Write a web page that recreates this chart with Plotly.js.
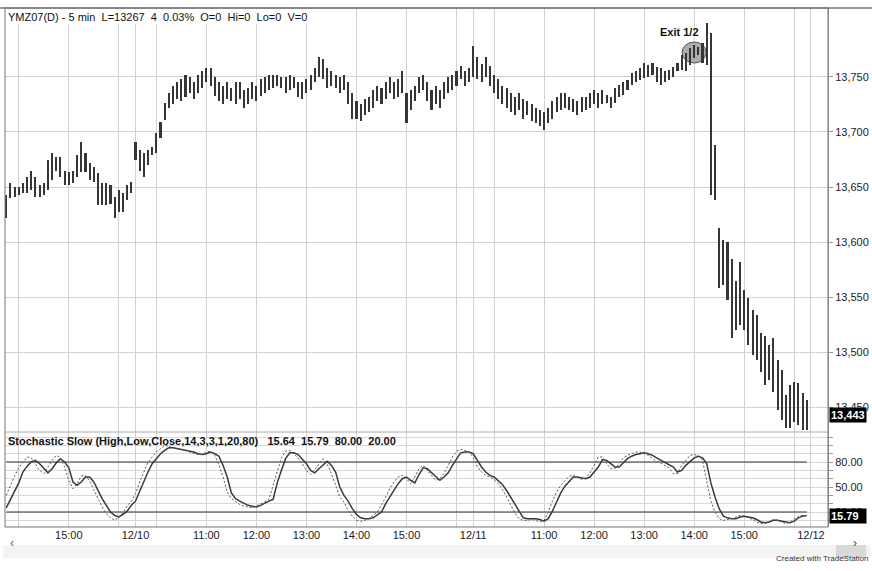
<!DOCTYPE html>
<html><head><meta charset="utf-8">
<script src="https://cdn.plot.ly/plotly-3.0.1.min.js"></script>
<style>html,body{margin:0;padding:0;background:#fff;}#chart{width:872px;height:571px;}</style>
</head><body><div id="chart"></div>
<script>
// 5-min bars, 12/07 13:45 .. 16:15
const hi_1207 = [13643,13654,13650,13650,13654,13659,13665,13659,13652,13654,13675,13681,13677,13677,13665,13664,13665,13679,13691,13681,13672,13668,13663,13654,13654,13652,13641,13647,13645,13652,13655];
const lo_1207 = [13622,13640,13641,13643,13645,13645,13647,13641,13641,13643,13647,13656,13665,13659,13652,13652,13654,13659,13664,13664,13656,13655,13634,13634,13634,13635,13622,13627,13627,13638,13645];
// 12/10 09:35 .. 16:15
const hi_1210 = [13691,13684,13681,13684,13686,13699,13709,13726,13735,13742,13745,13748,13752,13750,13745,13752,13755,13758,13758,13750,13745,13742,13745,13740,13745,13745,13738,13740,13745,13742,13748,13750,13752,13752,13752,13750,13750,13752,13750,13745,13745,13748,13752,13758,13768,13766,13758,13755,13752,13750,13752,13745,13735,13728,13725,13730,13732,13738,13742,13740,13745,13750,13745,13748,13755,13735,13738,13742,13750,13752,13745,13738,13742,13738,13745,13750,13752,13755,13760,13755,13758];
const lo_1210 = [13675,13665,13659,13670,13679,13681,13695,13711,13722,13725,13730,13728,13732,13735,13730,13735,13740,13745,13742,13733,13728,13725,13730,13728,13725,13730,13722,13725,13730,13728,13733,13735,13738,13740,13742,13740,13735,13738,13740,13732,13730,13735,13738,13745,13750,13748,13740,13742,13740,13735,13738,13725,13712,13712,13710,13715,13718,13722,13728,13725,13730,13735,13730,13732,13735,13708,13720,13728,13735,13738,13728,13720,13725,13722,13730,13735,13738,13742,13748,13742,13745];
// 12/11 09:35 .. 16:15
const hi_1211 = [13778,13768,13762,13768,13760,13752,13748,13742,13740,13735,13732,13735,13730,13728,13725,13722,13720,13718,13722,13728,13732,13735,13735,13732,13730,13728,13732,13732,13735,13738,13735,13738,13734,13732,13740,13743,13745,13747,13754,13755,13758,13763,13761,13763,13759,13758,13755,13756,13759,13763,13770,13772,13776,13779,13777,13781,13799,13790,13688,13613,13602,13600,13585,13565,13582,13556,13549,13538,13534,13517,13515,13506,13513,13493,13484,13461,13470,13473,13472,13463,13456];
const lo_1211 = [13750,13748,13745,13750,13742,13735,13730,13725,13722,13718,13715,13720,13712,13715,13710,13708,13705,13702,13708,13712,13718,13720,13722,13720,13718,13715,13718,13720,13722,13725,13722,13725,13726,13722,13726,13732,13734,13738,13743,13745,13747,13749,13750,13752,13745,13743,13745,13747,13750,13755,13756,13755,13761,13767,13770,13763,13761,13643,13638,13558,13561,13547,13513,13520,13525,13520,13506,13497,13493,13482,13470,13475,13464,13447,13438,13431,13431,13436,13434,13429,13429];

// Stochastic Slow (14,3,3)
const stochK = [40,52,63,73,80,86,85,78,70,66, 74,82,88,85,74,58,48,54,63,64, 57,46,35,26,18,13,10,13,19,27, 33,42,56,68,80,86,92,96,100,99, 97,96,95,94,92,90,89,89,92,93, 88,77,62,44,36,32,29,27,26,25, 27,30,33,35,52,70,85,93,94,90, 85,78,70,65,71,78,84,77,66,52, 38,32,22,15,10,9,10,12,16,20, 28,38,48,56,62,64,60,54,62,72, 76,70,64,58,60,66,76,86,93,95, 94,92,86,74,68,64,62,59,54,47, 38,28,19,12,10,10,11,10,8,10, 20,33,44,52,58,63,64,61,59,61, 67,76,86,86,78,72,72,78,85,88, 90,92,92,90,88,84,81,78,76,73, 66,66,76,82,88,89,88,82,58,33, 20,12,10,11,12,14,16,15,13,11, 8,6,6,9,11,10,8,6,8,12, 15,16,15.64];
const stochD = [25,35,46,55,68,75,80,82,78,72, 67,72,79,84,80,73,56,52,56,62, 62,56,45,36,28,20,16,14,17,21, 28,33,45,57,68,78,84,90,94,97, 97,96,95,94,93,92,90,89,90,92, 90,87,76,62,43,36,33,30,28,27, 26,28,31,33,35,55,70,84,91,91, 89,84,78,70,67,72,77,81,76,68, 50,40,33,24,17,13,12,12,13,16, 20,30,38,46,54,60,62,58,55,65, 73,72,67,63,58,62,67,76,84,91, 92,92,90,82,74,68,64,62,58,53, 46,38,29,21,13,12,12,12,11,9, 12,21,32,43,51,56,62,62,61,60, 62,68,74,83,82,78,74,74,79,84, 87,89,90,91,90,88,85,82,79,77, 74,68,70,76,81,85,87,85,78,55, 38,24,15,13,12,12,14,15,14,13, 11,8,7,8,10,10,9,8,7,9, 13,15,15.79];

const timeTickIdx  = [3, 15, 27, 31, 36, 48, 60, 72, 84, 96, 108, 112, 117, 129, 141, 153, 165, 177, 189, 193];
const timeTickText = ['', '15:00', '', '12/10', '', '11:00', '12:00', '13:00', '14:00', '15:00', '', '12/11', '', '11:00', '12:00', '13:00', '14:00', '15:00', '', '12/12'];
const priceTicks = [13450, 13500, 13550, 13600, 13650, 13700, 13750];
const priceTickText = ['13,450', '13,500', '13,550', '13,600', '13,650', '13,700', '13,750'];
const stochTicks = [10, 20, 30, 40, 50, 60, 70, 80, 90, 100, 110];
const stochTickText = ['', '20.00', '', '', '50.00', '', '', '80.00', '', '', ''];
const lastClose = 13443;
const overbought = 80, oversold = 20;

const highs = hi_1207.concat(hi_1210, hi_1211);
const lows = lo_1207.concat(lo_1210, lo_1211);
const idx = highs.map((_, i) => i);
const FONT = 'Liberation Sans, Arial, sans-serif';
const nb = '\u00a0';

const traces = [
  {type: 'bar', x: idx, y: highs.map((h, i) => h - lows[i]), base: lows, width: 0.5,
   marker: {color: '#363636', line: {width: 0}}, xaxis: 'x', yaxis: 'y', hoverinfo: 'skip'},
  {type: 'scatter', mode: 'lines', x: idx, y: idx.map(() => overbought), line: {color: '#333', width: 1.2}, xaxis: 'x', yaxis: 'y2', hoverinfo: 'skip'},
  {type: 'scatter', mode: 'lines', x: idx, y: idx.map(() => oversold), line: {color: '#333', width: 1.2}, xaxis: 'x', yaxis: 'y2', hoverinfo: 'skip'},
  {type: 'scatter', mode: 'lines', x: idx, y: stochD, line: {color: '#3a3a3a', width: 1.5}, xaxis: 'x', yaxis: 'y2'},
  {type: 'scatter', mode: 'lines', x: idx, y: stochK, line: {color: '#555', width: 1, dash: '2px,2px'}, xaxis: 'x', yaxis: 'y2'}
];

const pxX = (p) => (p - 5) / 823;     // pixel -> paper x
const pxY = (p) => (527 - p) / 519;   // pixel -> paper y

const layout = {
  width: 872, height: 571,
  margin: {l: 5, r: 44, t: 8, b: 44, pad: 0},
  paper_bgcolor: '#fff', plot_bgcolor: '#fff',
  showlegend: false, bargap: 0,
  font: {family: FONT, size: 11, color: '#222'},
  xaxis: {range: [-0.3, 197.1], tickvals: timeTickIdx, ticktext: timeTickText, anchor: 'y2',
          showgrid: true, gridcolor: '#d2d2d2', gridwidth: 1, zeroline: false, ticks: '',
          tickfont: {family: FONT, size: 11, color: '#222'}, showline: false, fixedrange: true},
  yaxis: {domain: [0.183, 1], range: [13427.3, 13812.7], side: 'right', tickvals: priceTicks, ticktext: priceTickText,
          showgrid: true, gridcolor: '#d2d2d2', zeroline: false, ticks: 'outside', ticklen: 4, tickcolor: '#999',
          showline: true, linecolor: '#999', tickfont: {family: FONT, size: 11, color: '#222'}, fixedrange: true},
  yaxis2: {domain: [0, 0.183], range: [2, 116], side: 'right', tickvals: stochTicks, ticktext: stochTickText,
          showgrid: true, gridcolor: '#d8d8d8', zeroline: false, ticks: 'outside', ticklen: 4, tickcolor: '#999',
          showline: true, linecolor: '#999', tickfont: {family: FONT, size: 11, color: '#222'}, fixedrange: true},
  shapes: [
    {type: 'rect', xref: 'paper', yref: 'paper', x0: 0, x1: 1, y0: 0, y1: 1, line: {color: '#777', width: 1}},
    {type: 'line', xref: 'paper', yref: 'paper', x0: pxX(0), x1: pxX(872), y0: 1, y1: 1, line: {color: '#777', width: 1.5}},
    {type: 'line', xref: 'paper', yref: 'paper', x0: 0, x1: 1, y0: 0.183, y1: 0.183, line: {color: '#aaa', width: 1}},
    {type: 'circle', xref: 'x', yref: 'y', x0: 162.1, x1: 167.9, y0: 13762.7, y1: 13781.8,
     fillcolor: '#acacac', line: {color: '#555', width: 1}, layer: 'between'},
    {type: 'rect', xref: 'paper', yref: 'paper', x0: pxX(3), x1: pxX(870), y0: pxY(558), y1: pxY(545),
     fillcolor: '#f3f3f3', line: {width: 0}},
    {type: 'rect', xref: 'paper', yref: 'paper', x0: pxX(836), x1: pxX(866), y0: pxY(558), y1: pxY(545),
     fillcolor: '#d9d9d9', line: {width: 0}}
  ],
  annotations: [
    {xref: 'paper', yref: 'paper', x: 0, y: 1, xanchor: 'left', yanchor: 'top', xshift: 1, yshift: -1, showarrow: false,
     text: 'YMZ07(D) - 5 min' + nb + nb + 'L=13267' + nb + nb + '4' + nb + nb + '0.03%' + nb + nb + 'O=0' + nb + nb + 'Hi=0' + nb + nb + 'Lo=0' + nb + nb + 'V=0',
     font: {family: FONT, size: 11, color: '#111'}, bgcolor: '#fff', borderpad: 1},
    {xref: 'paper', yref: 'paper', x: 0, y: 0.183, xanchor: 'left', yanchor: 'top', xshift: 1, yshift: -1, showarrow: false,
     text: '<b>Stochastic Slow (High,Low,Close,14,3,3,1,20,80)' + nb + nb + nb + '15.64' + nb + nb + '15.79' + nb + nb + '80.00' + nb + nb + '20.00</b>',
     font: {family: FONT, size: 11, color: '#111'}, borderpad: 1},
    {xref: 'x', yref: 'y', x: 161.6, y: 13790.5, showarrow: false, text: '<b>Exit 1/2</b>',
     font: {family: FONT, size: 11, color: '#111'}},
    {xref: 'paper', yref: 'y', x: 1, y: lastClose, xanchor: 'left', xshift: 1, showarrow: false,
     text: '<b>13,443</b>', bgcolor: '#000', font: {family: FONT, size: 11, color: '#fff'}, borderpad: 1},
    {xref: 'paper', yref: 'y2', x: 1, y: stochD[stochD.length - 1], xanchor: 'left', xshift: 1, showarrow: false,
     text: '<b>15.79</b>' + nb + nb, bgcolor: '#000', font: {family: FONT, size: 11, color: '#fff'}, borderpad: 1},
    {xref: 'paper', yref: 'paper', x: pxX(8), y: pxY(551.5), showarrow: false, text: '‹',
     font: {family: FONT, size: 12, color: '#666'}},
    {xref: 'paper', yref: 'paper', x: pxX(859), y: pxY(551.5), showarrow: false, text: '›',
     font: {family: FONT, size: 12, color: '#444'}},
    {xref: 'paper', yref: 'paper', x: pxX(871), y: pxY(565), xanchor: 'right', showarrow: false,
     text: 'Created with TradeStation', font: {family: FONT, size: 8, color: '#333'}}
  ]
};

Plotly.newPlot('chart', traces, layout, {displayModeBar: false, staticPlot: true});
</script>
</body></html>
